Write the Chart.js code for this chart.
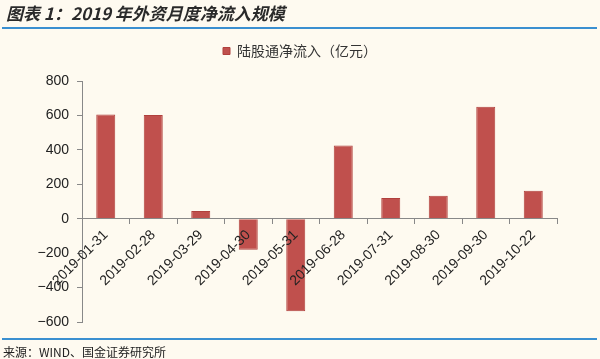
<!DOCTYPE html>
<html>
<head>
<meta charset="utf-8">
<script src="https://cdn.jsdelivr.net/npm/chart.js@4.4.0/dist/chart.umd.min.js"></script>
<style>
html,body{margin:0;padding:0;background:#fefaf0;}
#wrap{position:relative;width:600px;height:359px;}
canvas{display:block;}
</style>
</head>
<body>
<div id="wrap"><canvas id="c" width="600" height="359"></canvas></div>
<script>
const titleText = '图表 1：2019 年外资月度净流入规模';
const sourceText = '来源：WIND、国金证券研究所';
const seriesName = '陆股通净流入（亿元）';
const categories = ['2019-01-31','2019-02-28','2019-03-29','2019-04-30','2019-05-31','2019-06-28','2019-07-31','2019-08-30','2019-09-30','2019-10-22'];
const netInflow = [605, 603, 45, -180, -537, 425, 121, 133, 650, 163];
const yTicks = [-600, -400, -200, 0, 200, 400, 600, 800];

const decor = {
  id: 'decor',
  beforeLayout(chart) {
    const lg = chart.legend;
    if (lg && !lg._patched) {
      const origFit = lg.fit;
      lg.fit = function () { origFit.call(this); this.height += 13; };
      lg._patched = true;
    }
  },
  afterLayout(chart) {
    if (chart.legend) { chart.legend.left = 0; chart.legend.right = 600; }
  },
  beforeDraw(chart) {
    const ctx = chart.ctx;
    ctx.save();
    ctx.fillStyle = '#fefaf0';
    ctx.fillRect(0, 0, chart.width, chart.height);
    ctx.restore();
  },
  afterDraw(chart) {
    const ctx = chart.ctx;
    ctx.save();
    ctx.fillStyle = '#2a2a2a';
    ctx.font = 'italic bold 17px "Noto Sans CJK SC", "Liberation Sans", sans-serif';
    ctx.textBaseline = 'middle';
    ctx.fillText(titleText, 6, 14);
    ctx.strokeStyle = '#3a8fd0';
    ctx.lineWidth = 2;
    ctx.beginPath(); ctx.moveTo(2, 28); ctx.lineTo(597, 28); ctx.stroke();
    ctx.beginPath(); ctx.moveTo(2, 339); ctx.lineTo(597, 339); ctx.stroke();
    ctx.fillStyle = '#222';
    ctx.font = '12px "Noto Sans CJK SC", sans-serif';
    ctx.fillText(sourceText, 3, 352);
    ctx.restore();
  }
};

new Chart(document.getElementById('c'), {
  type: 'bar',
  data: {
    labels: categories,
    datasets: [{
      label: seriesName,
      data: netInflow,
      backgroundColor: '#c0504d',
      borderColor: '#b0403d',
      borderWidth: 1,
      barPercentage: 0.4,
      categoryPercentage: 1.0
    }]
  },
  options: {
    responsive: false,
    animation: false,
    devicePixelRatio: 1,
    layout: { padding: { left: 6, right: 43, top: 30, bottom: 37 } },
    plugins: {
      legend: {
        position: 'top',
        labels: {
          boxWidth: 7, boxHeight: 7, padding: 14,
          color: '#333',
          font: { family: '"Noto Sans CJK SC", sans-serif', size: 14 }
        }
      },
      tooltip: { enabled: false }
    },
    scales: {
      x: {
        position: { y: 0 },
        grid: { offset: true, drawOnChartArea: false, drawTicks: true, tickLength: 5, color: '#888', z: 1 },
        border: { color: '#888', width: 1, z: 1 },
        ticks: {
          z: 1,
          minRotation: 45, maxRotation: 45, autoSkip: false,
          color: '#222',
          font: { family: '"Liberation Sans", Arial, sans-serif', size: 14 }
        }
      },
      y: {
        min: -600, max: 800,
        afterBuildTicks(scale) { scale.ticks = yTicks.map(v => ({ value: v })); },
        afterFit(scale) { scale.width = 76; },
        grid: { drawOnChartArea: false, drawTicks: true, tickLength: 5, color: '#888' },
        border: { color: '#888', width: 1 },
        ticks: {
          color: '#222', padding: 8,
          font: { family: '"Liberation Sans", Arial, sans-serif', size: 14 },
          callback: v => String(v).replace('-', '\u2212')
        }
      }
    }
  },
  plugins: [decor]
});
</script>
</body>
</html>
